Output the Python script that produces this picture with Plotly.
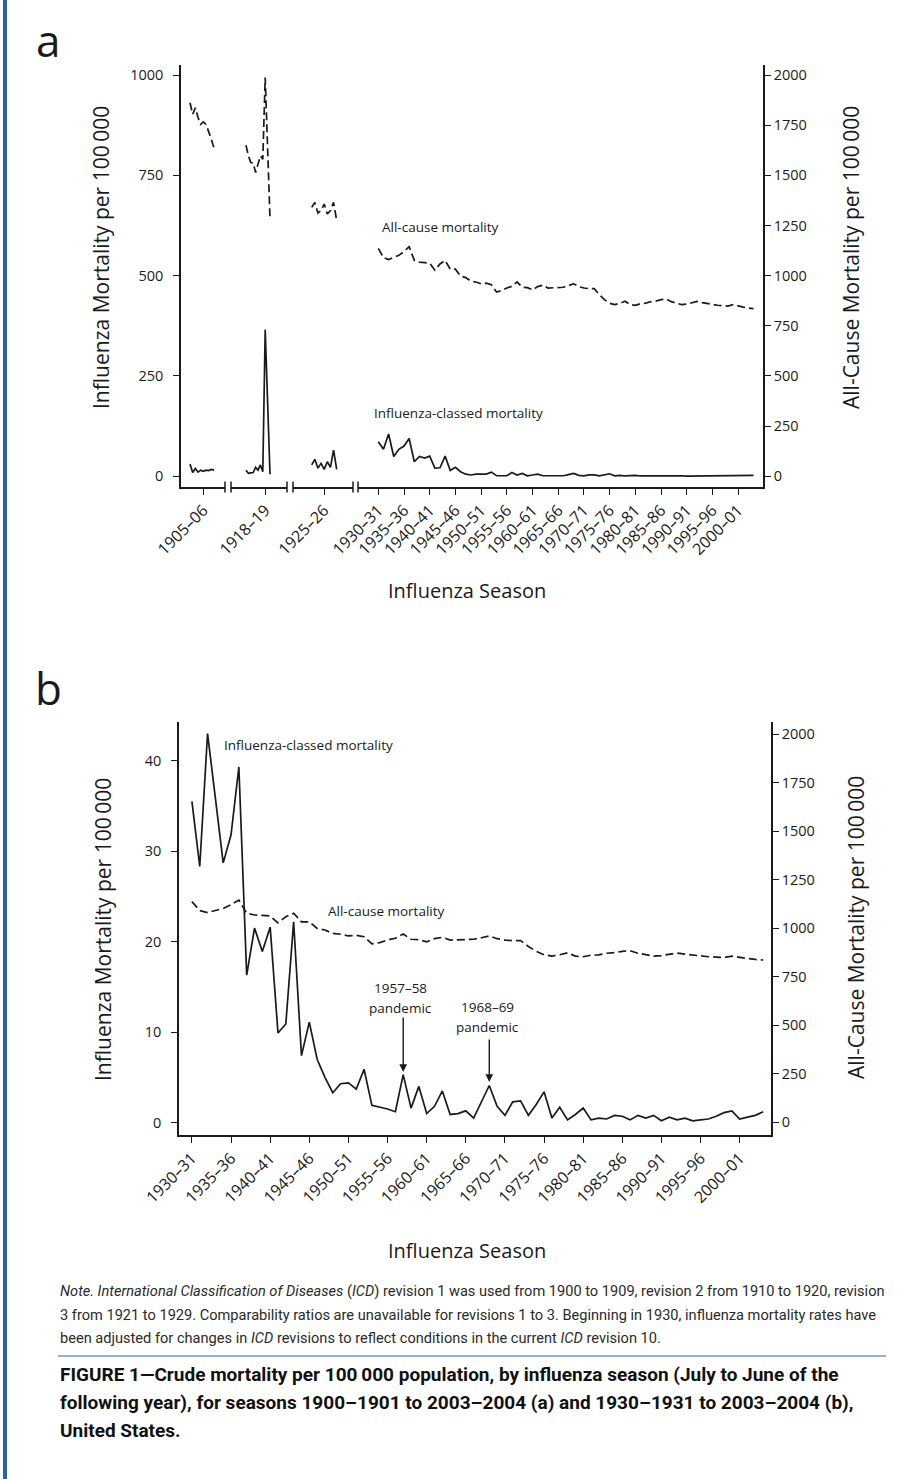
import plotly.graph_objects as go

W, H = 922, 1479
def px(x): return x / W
def py(y): return 1 - y / H

FONT = "Open Sans, Noto Sans, DejaVu Sans, sans-serif"
NARROW = "Roboto, Liberation Sans, sans-serif"
INK = "#1a1a1a"
BLUE = "#2a62a8"

# ---------------- data ----------------
# panel a, broken axis segments (season start years)
years_a1 = list(range(1900, 1910))
years_a2 = list(range(1910, 1921))
years_a3 = list(range(1921, 1930))
years_1930 = list(range(1930, 2004))

flu_a1 = [30, 9, 19, 10, 15, 12, 15, 14, 17, 15]
flu_a2 = [15, 7, 8, 9, 22, 15, 28, 11, 365, 185, 5]
flu_a3 = [28, 42, 20, 32, 17, 36, 22, 65, 17]
flu_a4 = [86, 67, 105, 49, 67, 75, 94, 36, 49, 45,
          50, 20, 21, 50, 14, 22, 11, 5, 3, 5,
          5, 5, 10, 1, 1, 1, 9, 3, 7, 1,
          3, 5, 1, 1, 2, 1, 1, 4, 7, 2,
          1, 3, 3, 1, 3, 6, 1, 2, 0.5, 1,
          2, 0.5, 1, 0.5, 1, 1, 0.5, 1, 0.5, 1,
          0.3, 0.5, 0.3, 0.5, 0.3, 0.3, 0.5, 1, 1.5, 1.5,
          0.5, 0.8, 1, 2]

all_a1 = [1862, 1804, 1837, 1788, 1754, 1766, 1754, 1721, 1680, 1634]
all_a2 = [1650, 1597, 1564, 1561, 1514, 1551, 1597, 1580, 1987, 1635, 1282]
all_a3 = [1340, 1365, 1312, 1324, 1357, 1307, 1324, 1365, 1274]

# 1930-31 .. 2003-04 (both panels)
all_cause = [1136, 1090, 1080, 1090, 1101, 1120, 1144, 1076, 1067, 1065,
             1062, 1027, 1058, 1076, 1032, 1032, 998, 990, 972, 968,
             959, 962, 955, 918, 925, 938, 947, 969, 942, 940,
             929, 945, 952, 938, 940, 942, 942, 950, 959, 945,
             938, 935, 935, 905, 880, 862, 855, 862, 872, 855,
             852, 860, 862, 870, 873, 880, 883, 870, 862, 855,
             858, 866, 871, 865, 860, 855, 852, 850, 848, 855,
             848, 843, 838, 835]

flu_b = [35.5, 28.3, 43.0, 36.0, 28.7, 31.8, 39.3, 16.3, 21.5, 18.9,
         21.6, 9.9, 10.9, 22.2, 7.4, 11.1, 7.0, 5.0, 3.3, 4.3,
         4.4, 3.7, 5.9, 1.9, 1.7, 1.5, 1.2, 5.3, 1.6, 4.0,
         1.0, 1.8, 3.5, 0.9, 1.0, 1.3, 0.5, 2.3, 4.1, 1.8,
         0.8, 2.3, 2.4, 0.8, 2.0, 3.4, 0.5, 1.7, 0.3, 0.9,
         1.6, 0.3, 0.5, 0.4, 0.8, 0.7, 0.3, 0.8, 0.5, 0.8,
         0.2, 0.6, 0.3, 0.5, 0.2, 0.3, 0.4, 0.7, 1.1, 1.3,
         0.4, 0.6, 0.8, 1.2]

tick_years = list(range(1930, 2001, 5))
tick_labels = [f"{y}\u2013{(y + 1) % 100:02d}" for y in tick_years]
left_ticks_a = [0, 250, 500, 750, 1000]
right_ticks = [0, 250, 500, 750, 1000, 1250, 1500, 1750, 2000]
left_ticks_b = [0, 10, 20, 30, 40]

# ---------------- traces ----------------
fig = go.Figure()
flu_line = dict(color=INK, width=1.7)
all_line = dict(color=INK, width=1.7, dash="8px,4px")

segments = [(years_a1, flu_a1, all_a1, "x"),
            (years_a2, flu_a2, all_a2, "x2"),
            (years_a3, flu_a3, all_a3, "x3"),
            (years_1930, flu_a4, all_cause, "x4")]
for yrs, fl, al, xa in segments:
    fig.add_trace(go.Scatter(x=yrs, y=fl, mode="lines", line=flu_line,
                             xaxis=xa, yaxis="y", showlegend=False, hoverinfo="skip"))
    fig.add_trace(go.Scatter(x=yrs, y=al, mode="lines", line=all_line,
                             xaxis=xa, yaxis="y2", showlegend=False, hoverinfo="skip"))

fig.add_trace(go.Scatter(x=years_1930, y=flu_b, mode="lines", line=flu_line,
                         xaxis="x5", yaxis="y3", showlegend=False, hoverinfo="skip"))
fig.add_trace(go.Scatter(x=years_1930, y=all_cause, mode="lines", line=all_line,
                         xaxis="x5", yaxis="y4", showlegend=False, hoverinfo="skip"))

# ---------------- axes ----------------
base = dict(showline=True, linecolor=INK, linewidth=1.5, ticks="outside", ticklen=6,
            tickwidth=1.3, tickcolor=INK, showgrid=False, zeroline=False, automargin=False,
            tickfont=dict(family=FONT, size=14.5, color=INK), fixedrange=True)
xt = dict(base, tickmode="array", tickangle=-45,
          tickfont=dict(family=FONT, size=16, color=INK))
yl = dict(base, ticklabelstandoff=7)

fig.update_layout(
    xaxis=dict(xt, domain=[px(181), px(225)], range=[1896.63, 1913.1], anchor="y",
               tickvals=[1905], ticktext=["1905\u201306"]),
    xaxis2=dict(xt, domain=[px(231), px(287)], range=[1903.75, 1927.08], anchor="y",
                tickvals=[1918], ticktext=["1918\u201319"]),
    xaxis3=dict(xt, domain=[px(293), px(353)], range=[1915.02, 1934.22], anchor="y",
                tickvals=[1925], ticktext=["1925\u201326"]),
    xaxis4=dict(xt, domain=[px(358), px(763)], range=[1926.05, 2004.84], anchor="y",
                tickvals=tick_years, ticktext=tick_labels),
    yaxis=dict(yl, domain=[py(487), py(65)], range=[-27, 1025], anchor="x",
               tickmode="array", tickvals=left_ticks_a),
    yaxis2=dict(base, domain=[py(487), py(65)], range=[-54, 2050], anchor="x4",
                overlaying="y", side="right", tickmode="array", tickvals=right_ticks),
    xaxis5=dict(xt, domain=[px(179), px(771)], range=[1928.35, 2004.0], anchor="y3",
                tickvals=tick_years, ticktext=tick_labels),
    yaxis3=dict(yl, domain=[py(1135), py(722)], range=[-1.37, 44.27], anchor="x5",
                tickmode="array", tickvals=left_ticks_b),
    yaxis4=dict(base, domain=[py(1135), py(722)], range=[-67, 2062], anchor="x5",
                overlaying="y3", side="right", tickmode="array", tickvals=right_ticks),
)

# ---------------- shapes ----------------
shapes = []
# axis-break caps in panel a
for ref, xs in [("x", [1]), ("x2", [0, 1]), ("x3", [0, 1]), ("x4", [0])]:
    for xv in xs:
        shapes.append(dict(type="line", xref=f"{ref} domain", yref="paper",
                           x0=xv, x1=xv, y0=py(492.5), y1=py(481.5),
                           line=dict(color=INK, width=1.5)))
# blue page border and rule
shapes.append(dict(type="rect", xref="paper", yref="paper", x0=px(3), x1=px(7), y0=0, y1=1,
                   fillcolor=BLUE, line=dict(width=0), layer="above"))
shapes.append(dict(type="line", xref="paper", yref="paper", x0=px(58), x1=px(886),
                   y0=py(1356), y1=py(1356), line=dict(color=BLUE, width=1.2)))

# ---------------- annotations ----------------
anns = []
def ann(text, x, y, size, angle=0, xanchor="center", family=FONT, color=INK):
    anns.append(dict(text=text, x=px(x), y=py(y), xref="paper", yref="paper",
                     showarrow=False, textangle=angle, xanchor=xanchor, yanchor="middle",
                     font=dict(family=family, size=size, color=color)))

ann("a", 48, 40, 44)
ann("b", 48, 688, 44)
ann("Influenza Mortality per 100\u2009000", 101, 258, 21, angle=-90)
ann("All-Cause Mortality per 100\u2009000", 851, 258, 21, angle=-90)
ann("Influenza Season", 467, 590, 20)
ann("Influenza Mortality per 100\u2009000", 103, 930, 21, angle=-90)
ann("All-Cause Mortality per 100\u2009000", 856, 928, 21, angle=-90)
ann("Influenza Season", 467, 1250, 20)

ann("All-cause mortality", 380, 227, 13.5, xanchor="left")
ann("Influenza-classed mortality", 372, 413, 13.5, xanchor="left")
ann("Influenza-classed mortality", 222, 745, 13.5, xanchor="left")
ann("All-cause mortality", 326, 911, 13.5, xanchor="left")
ann("1957\u201358", 400, 988, 13.5)
ann("pandemic", 400, 1008, 13.5)
ann("1968\u201369", 487, 1007, 13.5)
ann("pandemic", 487, 1027, 13.5)

# pandemic arrows
for yr, tip, ay in [(1957, 5.6, -56), (1968, 4.5, -44)]:
    anns.append(dict(text="", x=yr, y=tip, xref="x5", yref="y3", showarrow=True,
                     ax=0, ay=ay, arrowhead=2, arrowsize=1.1, arrowwidth=1.4,
                     arrowcolor=INK))

note_lines = [
    "<i>Note. International Classification of Diseases</i> (<i>ICD</i>) revision 1 was used from 1900 to 1909, revision 2 from 1910 to 1920, revision",
    "3 from 1921 to 1929. Comparability ratios are unavailable for revisions 1 to 3. Beginning in 1930, influenza mortality rates have",
    "been adjusted for changes in <i>ICD</i> revisions to reflect conditions in the current <i>ICD</i> revision 10.",
]
for i, t in enumerate(note_lines):
    ann(t, 58, 1291 + i * 23.5, 14.6, xanchor="left", family=NARROW, color="#2a2a2a")

cap_lines = [
    "<b>FIGURE 1\u2014Crude mortality per 100\u2009000 population, by influenza season (July to June of the</b>",
    "<b>following year), for seasons 1900\u20131901 to 2003\u20132004 (a) and 1930\u20131931 to 2003\u20132004 (b),</b>",
    "<b>United States.</b>",
]
for i, t in enumerate(cap_lines):
    ann(t, 58, 1374 + i * 28, 19, xanchor="left", family=NARROW, color="#111111")

fig.update_layout(width=W, height=H, margin=dict(l=0, r=0, t=0, b=0, autoexpand=False),
                  paper_bgcolor="white", plot_bgcolor="white",
                  shapes=shapes, annotations=anns, showlegend=False,
                  font=dict(family=FONT, color=INK))

fig.write_html("out.html", config={"displayModeBar": False},
               post_script="document.body.style.margin='0px';")
